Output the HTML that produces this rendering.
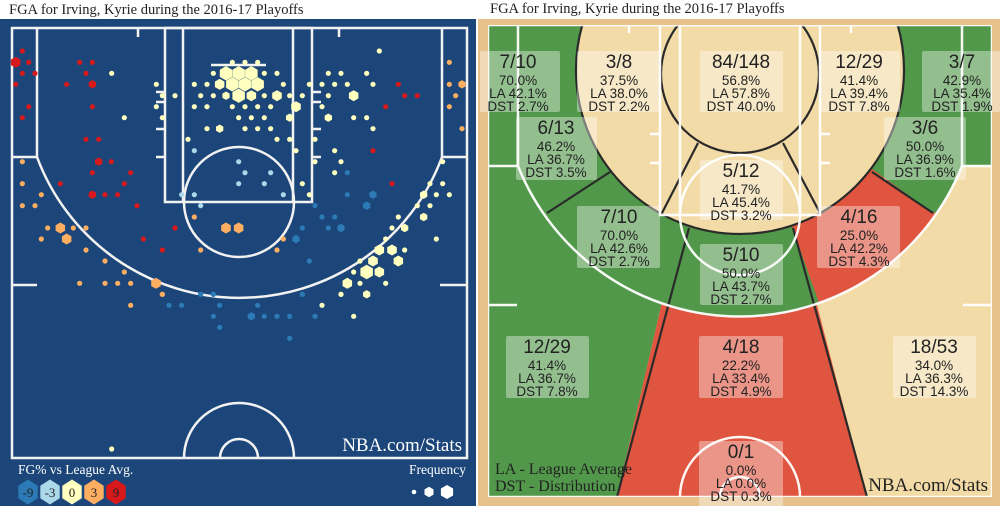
<!DOCTYPE html>
<html><head><meta charset="utf-8"><style>
html,body{margin:0;padding:0;background:#fff;width:1000px;height:506px;overflow:hidden}
svg{display:block}
.t{font-family:"Liberation Serif",serif;font-size:14.5px;fill:#222}
.z{font-family:"Liberation Sans",sans-serif;fill:#222;text-anchor:middle}
</style></head><body>
<svg id="s" width="1000" height="506" xmlns="http://www.w3.org/2000/svg">
<text class="t" x="9" y="14">FGA for Irving, Kyrie during the 2016-17 Playoffs</text>
<text class="t" x="490" y="13">FGA for Irving, Kyrie during the 2016-17 Playoffs</text>
<!-- LEFT -->
<rect x="0" y="19" width="476" height="487" fill="#1c4679"/>
<g fill="none" stroke="#f2f2f2" stroke-width="2.5">
<rect x="12" y="28" width="455" height="430"/>
<line x1="37" y1="28" x2="37" y2="157"/><line x1="442" y1="28" x2="442" y2="157"/>
<line x1="12" y1="157" x2="37" y2="157"/><line x1="442" y1="157" x2="467" y2="157"/>
<path d="M37,157 A216,216 0 0 0 442,157"/>
<rect x="165" y="28" width="147" height="174"/>
<line x1="183" y1="28" x2="183" y2="202"/><line x1="293" y1="28" x2="293" y2="202"/>
<circle cx="239" cy="202" r="55"/>
<line x1="211" y1="65" x2="266" y2="65"/>
<line x1="138" y1="28" x2="138" y2="37"/><line x1="339" y1="28" x2="339" y2="37"/>
<line x1="12" y1="285" x2="37" y2="285"/><line x1="440" y1="285" x2="467" y2="285"/>
<line x1="156" y1="92" x2="165" y2="92"/><line x1="156" y1="102" x2="165" y2="102"/><line x1="156" y1="129" x2="165" y2="129"/><line x1="156" y1="157" x2="165" y2="157"/>
<line x1="312" y1="92" x2="321" y2="92"/><line x1="312" y1="102" x2="321" y2="102"/><line x1="312" y1="129" x2="321" y2="129"/><line x1="312" y1="157" x2="321" y2="157"/>
<path d="M184,458 A55,55 0 0 1 294,458"/>
<path d="M220,458 A19,19 0 0 1 258,458"/>
</g>
<g id="dots"></g>
<text x="462" y="451" text-anchor="end" style="font-family:'Liberation Serif',serif;font-size:19px;fill:#fff">NBA.com/Stats</text>
<text x="18" y="474" style="font-family:'Liberation Serif',serif;font-size:13.5px;fill:#fff">FG% vs League Avg.</text>
<text x="466" y="474" text-anchor="end" style="font-family:'Liberation Serif',serif;font-size:13.5px;fill:#fff">Frequency</text>
<g id="leg"></g>
<!-- RIGHT -->
<rect x="478" y="19" width="522" height="487" fill="#e6c28a"/>
<defs><clipPath id="cc"><rect x="488" y="25" width="504" height="472"/></clipPath>
<clipPath id="three"><path d="M518,25 L518,166 A239,239 0 0 0 962,166 L962,25 Z"/></clipPath></defs>
<g clip-path="url(#cc)">
<rect x="488" y="25" width="504" height="472" fill="#f2dba6"/>
<polygon points="488,25 726,25 617,497 488,497" fill="#51984a"/>
<polygon points="726,25 744,25 867,497 617,497" fill="#df553f"/>
<rect x="962" y="25" width="30" height="141" fill="#51984a"/>
<g clip-path="url(#three)">
<rect x="488" y="25" width="504" height="300" fill="#51984a"/>
<polygon points="740,74 768,155 794,232 825,320 1000,320 1000,202 933,213" fill="#df553f"/>
</g>
<circle cx="740" cy="70" r="164" fill="#f2dba6"/>
<g fill="none" stroke="#2a2a2a" stroke-width="2.2">
<line x1="617" y1="497" x2="689" y2="228"/>
<line x1="867" y1="497" x2="793" y2="228"/>
<line x1="547" y1="213" x2="610" y2="172"/>
<line x1="933" y1="213" x2="872" y2="172"/>
<circle cx="740" cy="70" r="164"/>
<circle cx="740" cy="74" r="79"/>
<line x1="698" y1="143" x2="662" y2="213"/><line x1="783" y1="143" x2="820" y2="213"/>
</g>
<g fill="none" stroke="#fff" stroke-width="2.5" opacity="0.95">
<rect x="488" y="25" width="504" height="472"/>
<line x1="518" y1="25" x2="518" y2="166"/><line x1="962" y1="25" x2="962" y2="166"/>
<line x1="488" y1="166" x2="518" y2="166"/><line x1="962" y1="166" x2="992" y2="166"/>
<path d="M518,166 A239,239 0 0 0 962,166"/>
<rect x="660" y="25" width="160" height="190"/>
<line x1="680" y1="25" x2="680" y2="215"/><line x1="800" y1="25" x2="800" y2="215"/>
<circle cx="740" cy="215" r="60"/>
<line x1="629" y1="25" x2="629" y2="33"/><line x1="851" y1="25" x2="851" y2="33"/>
<line x1="488" y1="305" x2="517" y2="305"/><line x1="963" y1="305" x2="992" y2="305"/>
<line x1="650" y1="134" x2="660" y2="134"/><line x1="650" y1="163" x2="660" y2="163"/><line x1="820" y1="134" x2="830" y2="134"/><line x1="820" y1="163" x2="830" y2="163"/>
<path d="M680,497 A60,60 0 0 1 800,497"/>
<path d="M720,497 A20,20 0 0 1 760,497"/>
</g>
</g>
<g id="lab"></g>
<text x="495" y="474" style="font-family:'Liberation Serif',serif;font-size:16px;fill:#222">LA - League Average</text>
<text x="495" y="491" style="font-family:'Liberation Serif',serif;font-size:16px;fill:#222">DST - Distribution</text>
<text x="988" y="491" text-anchor="end" style="font-family:'Liberation Serif',serif;font-size:19px;fill:#222">NBA.com/Stats</text>
</svg>
<script>
var NS="http://www.w3.org/2000/svg";
function el(p,t,a,txt){var e=document.createElementNS(NS,t);for(var k in a)e.setAttribute(k,a[k]);if(txt!=null)e.textContent=txt;p.appendChild(e);return e;}
function hex(cx,cy,r){var p=[];for(var i=0;i<6;i++){var a=Math.PI/3*i+Math.PI/6;p.push((cx+r*Math.cos(a)).toFixed(1)+","+(cy+r*Math.sin(a)).toFixed(1));}return p.join(" ");}
var C={R:"#d7191c",O:"#fdae61",Y:"#ffffbf",L:"#abd9e9",B:"#2c7bb6"};
var D={
R:"67,153;47,187,2;86,187;67,220;105,220;47,253;86,320;67,353;239,187;277,187;258,220;200,253;277,253,1;277,320;258,418;296,418;296,485,1;334,485;277,518;392,518;181,551;373,551;277,584,1;315,584;353,584;411,617;525,684;430,717;487,750;1195,253;1214,287;1252,287;1157,320;1119,452;1176,551",
O:"1348,187;1348,253;1386,253,1;1367,287;1348,320;1386,386;67,485;67,551;124,584;67,617;105,617;143,684;181,684,2;220,684;258,684;124,717;200,717,2;258,750;315,783;373,816;239,850;315,850;353,850;392,850;468,850,2;487,883;583,651;678,684,2;716,684,2;602,750;850,717;831,750;487,1883;392,1916",
Y:"678,220,3;716,220,3;754,220,3;697,253,3;735,253,3;773,253,3;659,253,2;716,287,3;754,287,2;831,287,2;888,320,2;697,187;735,187;773,187;640,220;793,220;831,220;469,253;583,253;621,253;850,253;928,253;487,287;525,287;602,287;640,287;678,287,1;793,287;869,287;907,287;469,320;583,320;621,320;697,320;735,320;773,320;812,320;373,353;487,353;716,353;754,353;793,353;869,353,1;621,386;659,386,1;735,386;773,386;812,386;564,418;831,418;869,418;945,418;888,452;945,485;907,551;928,584;335,220;1138,153;985,220;1023,220;1100,220;966,253;1004,253;1042,253;1119,253;985,287;1061,287,2;966,320;985,353,1;1061,353;1100,353;1119,386;1004,452;1023,485;1004,518;1328,485;1290,551;1328,551;1271,584,1;1309,584;1348,584;1252,617;1290,617;1271,651,1;1195,651;1176,684;1214,684,1;1157,717;1309,717;1138,750,2;1176,750,2;1214,750;1080,783;1119,783,2;1195,783,2;1061,816;1100,816,3;1138,816,2;1042,850,2;1080,850;1157,850;1023,883;1100,883;1023,1883;1100,1883,1;966,1916;1061,1949;335,2347",
L:"583,452;716,485;735,518;812,518;716,551;793,551;545,584;583,584;850,584;602,617",
B:"1042,518;1042,584;1119,584,1;945,617;1100,617,1;966,651;1004,651;907,684;985,684;1023,684,1;888,717,1;928,783;602,883;640,883;907,883;602,1883;640,1883;507,1916;545,1916;659,1916;773,1916;640,1949;754,1949,1;793,1949;831,1949;869,1949;945,1949;659,1982;869,2015;907,1883"};
var g=document.getElementById("dots");
var rs=[0,4.2,5.5,7.2];
for(var c in D){D[c].split(";").forEach(function(s){var a=s.split(",").map(Number);var x=a[0]/3,y=a[1]/3;if(a[1]>=1800)y=(a[1]-1870)/3+290;var sz=a[2]||0;
if(sz==0)el(g,"circle",{cx:x,cy:y,r:2.6,fill:C[c]});else el(g,"polygon",{points:hex(x,y,rs[sz]),fill:C[c]});});}
var lg=document.getElementById("leg");
[["B","-9",28],["L","-3",50],["Y","0",72],["O","3",94],["R","9",116]].forEach(function(a){
var p=[];for(var i=0;i<6;i++){var an=Math.PI/3*i;p.push((a[2]+12.5*Math.cos(an+Math.PI/2)*0.9).toFixed(1)+","+(492+12.5*Math.sin(an+Math.PI/2)).toFixed(1));}
el(lg,"polygon",{points:p.join(" "),fill:C[a[0]]});
el(lg,"text",{x:a[2],y:497,"text-anchor":"middle",style:"font-family:'Liberation Serif',serif;font-size:13px;fill:#222"},a[1]);});
el(lg,"circle",{cx:414,cy:492,r:2.3,fill:"#fff"});
el(lg,"polygon",{points:hex(429,492,5.2),fill:"#fff"});
el(lg,"polygon",{points:hex(447,492,7),fill:"#fff"});
var L=document.getElementById("lab");
var Z=[["7/10","70.0%","LA 42.1%","DST 2.7%",480,560,51,112,518],
["3/8","37.5%","LA 38.0%","DST 2.2%",577,660,51,112,619],
["84/148","56.8%","LA 57.8%","DST 40.0%",700,783,51,112,741],
["12/29","41.4%","LA 39.4%","DST 7.8%",820,900,51,112,859],
["3/7","42.9%","LA 35.4%","DST 1.9%",922,1000,51,112,962],
["6/13","46.2%","LA 36.7%","DST 3.5%",516,597,117,180,556],
["3/6","50.0%","LA 36.9%","DST 1.6%",884,966,117,180,925],
["5/12","41.7%","LA 45.4%","DST 3.2%",700,783,160,220,741],
["7/10","70.0%","LA 42.6%","DST 2.7%",577,660,206,268,619],
["4/16","25.0%","LA 42.2%","DST 4.3%",817,900,206,268,859],
["5/10","50.0%","LA 43.7%","DST 2.7%",700,783,244,305,741],
["12/29","41.4%","LA 36.7%","DST 7.8%",506,589,336,398,547],
["4/18","22.2%","LA 33.4%","DST 4.9%",699,783,336,398,741],
["18/53","34.0%","LA 36.3%","DST 14.3%",893,976,336,398,934],
["0/1","0.0%","LA 0.0%","DST 0.3%",699,783,441,506,741]];
Z.forEach(function(z){
el(L,"rect",{x:z[4],y:z[6],width:z[5]-z[4],height:z[7]-z[6],fill:"rgba(255,255,255,0.38)",rx:2});
var t=z[6];
el(L,"text",{class:"z",x:z[8],y:t+17,"font-size":"19"},z[0]);
el(L,"text",{class:"z",x:z[8],y:t+34,"font-size":"13.5"},z[1]);
el(L,"text",{class:"z",x:z[8],y:t+47,"font-size":"13.5"},z[2]);
el(L,"text",{class:"z",x:z[8],y:t+60,"font-size":"13.5"},z[3]);
});
</script>
</body></html>
